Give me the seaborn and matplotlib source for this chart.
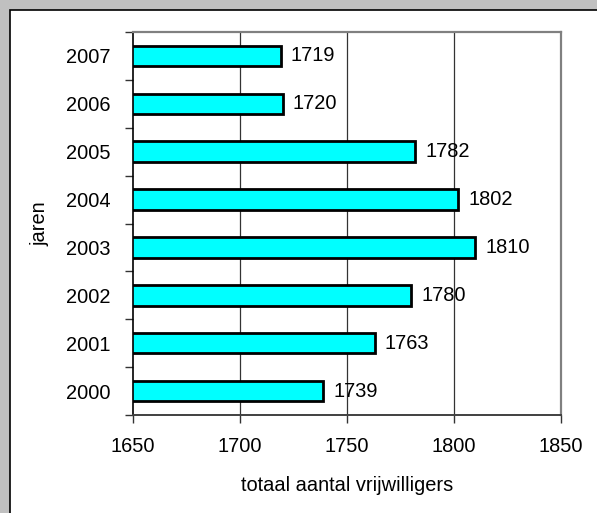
import matplotlib
matplotlib.use("Agg")
import matplotlib.pyplot as plt
from matplotlib.patches import Rectangle
import seaborn as sns
import pandas as pd

# data, top row first
years = ["2007", "2006", "2005", "2004", "2003", "2002", "2001", "2000"]
volunteers = [1719, 1720, 1782, 1802, 1810, 1780, 1763, 1739]
x_ticks = [1650, 1700, 1750, 1800, 1850]

sns.set_style("white")
plt.rcParams["font.family"] = ["Liberation Sans", "DejaVu Sans"]
plt.rcParams["text.color"] = "black"
plt.rcParams["axes.labelcolor"] = "black"
plt.rcParams["xtick.labelcolor"] = "black"
plt.rcParams["ytick.labelcolor"] = "black"

df = pd.DataFrame({"jaren": years, "totaal": volunteers})

fig = plt.figure(figsize=(5.97, 5.13), dpi=100)
fig.patch.set_facecolor("#c0c0c0")
# white chart area with black border (excel style)
fig.patches.append(Rectangle((9.5 / 597, -0.05), 1.2, 1 - 10 / 513 + 0.05,
                             transform=fig.transFigure, facecolor="white",
                             edgecolor="black", linewidth=1.2, zorder=-10))

ax = fig.add_axes([133 / 597, 1 - 415 / 513, (561 - 133) / 597, (415 - 32) / 513])
ax.set_facecolor("white")

sns.barplot(data=df, x="totaal", y="jaren", order=years, orient="h",
            color="#00ffff", saturation=1, width=0.43,
            edgecolor="black", linewidth=2, ax=ax, zorder=3)

ax.set_xlim(1650, 1850)
ax.set_xticks(x_ticks)
ax.set_ylim(len(years) - 0.5, -0.5)
for xv in x_ticks[1:-1]:
    ax.axvline(xv, color="#333333", linewidth=0.9, zorder=1)

# value labels
for i, v in enumerate(volunteers):
    ax.text(v + 4.6, i, str(v), va="center", ha="left", fontsize=14.4, color="black", zorder=4)

# ticks between categories on y axis
ax.set_yticks([i + 0.5 for i in range(-1, len(years))], minor=True)
ax.tick_params(axis="y", which="major", length=0, pad=16, labelsize=14.4, labelcolor="black")
ax.tick_params(axis="y", which="minor", length=6, width=1, color="#333333", direction="out", left=True)
ax.tick_params(axis="x", which="major", length=6, width=1, color="#333333", direction="out",
               bottom=True, pad=10, labelsize=14.4, labelcolor="black")

for side in ["top", "right"]:
    ax.spines[side].set_color("#808080")
    ax.spines[side].set_linewidth(1.6)
ax.spines["left"].set_color("black")
ax.spines["left"].set_linewidth(1.2)
ax.spines["bottom"].set_color("#404040")
ax.spines["bottom"].set_linewidth(1.4)
for s in ax.spines.values():
    s.set_zorder(5)

ax.set_xlabel("totaal aantal vrijwilligers", fontsize=14.4, labelpad=14, color="black")
ax.set_ylabel("jaren", fontsize=14.4, labelpad=12, color="black")

fig.savefig("out.png", dpi=100, facecolor=fig.get_facecolor())
